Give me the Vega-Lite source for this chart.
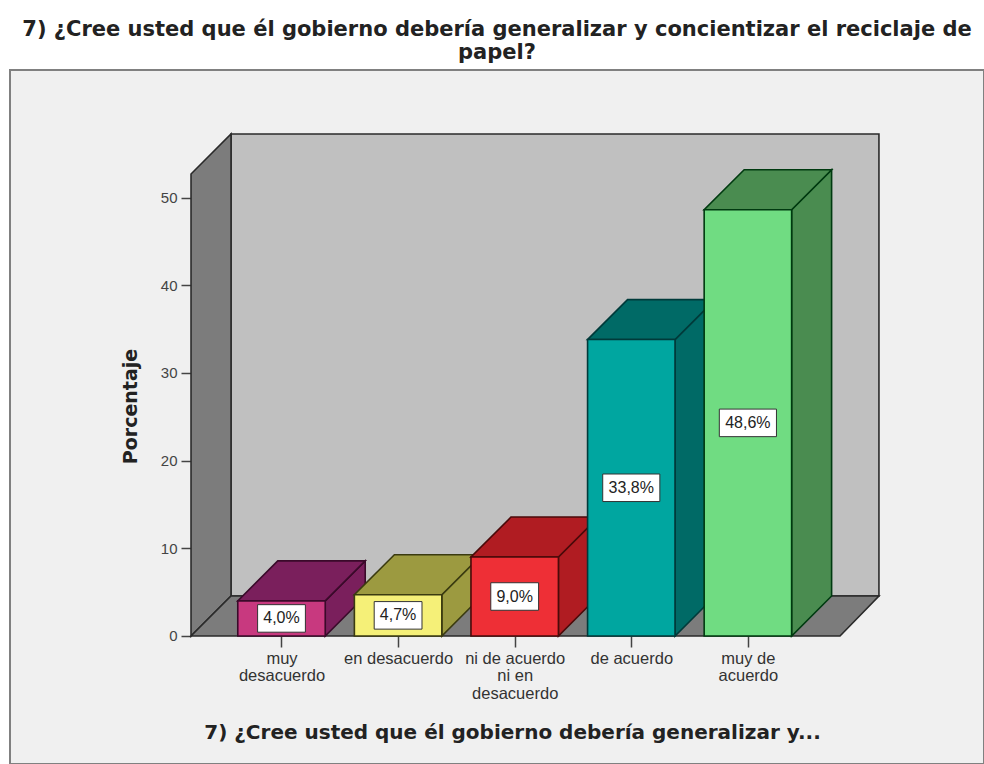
{"$schema":"https://vega.github.io/schema/vega-lite/v6.json","autosize":{"type":"none"},"padding":{"left":10,"top":70,"right":0,"bottom":0},"width":974,"height":694,"background":"#ffffff","view":{"fill":"#f0f0f0","stroke":"#808080","strokeWidth":2},"title":{"text":["7) ¿Cree usted que él gobierno debería generalizar y concientizar el reciclaje de","papel?"],"font":"DejaVu Sans","fontSize":21,"fontWeight":"bold","color":"#222222","anchor":"middle","lineHeight":23,"offset":7},"data":{"values":[{"categoria":"muy desacuerdo","posicion":1,"porcentaje":4.0,"etiqueta":"4,0%"},{"categoria":"en desacuerdo","posicion":2,"porcentaje":4.7,"etiqueta":"4,7%"},{"categoria":"ni de acuerdo ni en desacuerdo","posicion":3,"porcentaje":9.0,"etiqueta":"9,0%"},{"categoria":"de acuerdo","posicion":4,"porcentaje":33.8,"etiqueta":"33,8%"},{"categoria":"muy de acuerdo","posicion":5,"porcentaje":48.6,"etiqueta":"48,6%"}]},"resolve":{"scale":{"color":"independent","stroke":"independent"}},"layer":[{"data":{"values":[{"cara":"fondo","x":0.567,"y0":4.56,"y1":57.24},{"cara":"fondo","x":6.124,"y0":4.56,"y1":57.24},{"cara":"pared","x":0.224,"y0":0,"y1":52.68},{"cara":"pared","x":0.567,"y0":4.56,"y1":57.24},{"cara":"suelo","x":0.224,"y0":0,"y1":0},{"cara":"suelo","x":0.567,"y0":0,"y1":4.56},{"cara":"suelo","x":5.79,"y0":0,"y1":4.56},{"cara":"suelo","x":6.124,"y0":4.56,"y1":4.56}]},"mark":{"type":"area","stroke":"#2a2a2a","strokeWidth":1.6,"opacity":1},"encoding":{"x":{"field":"x","type":"quantitative","scale":{"domain":[-1.3285,7.025],"zero":false,"nice":false},"axis":{"values":[1,2,3,4,5],"offset":-128,"grid":false,"domain":false,"tickSize":11,"tickColor":"#444444","tickWidth":1.5,"labelFont":"Liberation Sans","labelFontSize":16.5,"labelColor":"#333333","labelPadding":3,"labelLineHeight":17.5,"labelAngle":0,"labelOverlap":false,"labelExpr":"datum.value==1?['muy','desacuerdo']:datum.value==2?'en desacuerdo':datum.value==3?['ni de acuerdo','ni en','desacuerdo']:datum.value==4?'de acuerdo':['muy de','acuerdo']","title":"7) ¿Cree usted que él gobierno debería generalizar y...","titleFont":"DejaVu Sans","titleFontSize":20,"titleFontWeight":"bold","titleColor":"#222222","titlePadding":21,"titleX":502}},"y":{"field":"y1","type":"quantitative","scale":{"domain":[-14.6,64.54],"zero":false,"nice":false},"axis":{"values":[0,10,20,30,40,50],"offset":-181,"grid":false,"domain":false,"tickSize":10,"tickColor":"#444444","tickWidth":1.5,"labelFont":"Liberation Sans","labelFontSize":15,"labelColor":"#444444","labelPadding":4,"title":"Porcentaje","titleFont":"DejaVu Sans","titleFontSize":19,"titleFontWeight":"bold","titleColor":"#222222","titlePadding":20,"titleY":336}},"y2":{"field":"y0"},"color":{"field":"cara","type":"nominal","legend":null,"scale":{"domain":["fondo","pared","suelo"],"range":["#c0c0c0","#7c7c7c","#7c7c7c"]}}}},{"transform":[{"calculate":"[0,1]","as":"t"},{"flatten":["t"]},{"calculate":"datum.posicion+0.375+datum.t*0.343","as":"xs"},{"calculate":"datum.t*4.56","as":"yb"},{"calculate":"datum.porcentaje+datum.t*4.56","as":"yt"}],"mark":{"type":"area","strokeWidth":1.6,"opacity":1},"encoding":{"x":{"field":"xs","type":"quantitative"},"y":{"field":"yt","type":"quantitative"},"y2":{"field":"yb"},"color":{"field":"categoria","type":"nominal","legend":null,"scale":{"domain":["muy desacuerdo","en desacuerdo","ni de acuerdo ni en desacuerdo","de acuerdo","muy de acuerdo"],"range":["#7a1f5c","#9c9a40","#b01c22","#006a66","#4a8c50"]}},"stroke":{"field":"categoria","type":"nominal","legend":null,"scale":{"domain":["muy desacuerdo","en desacuerdo","ni de acuerdo ni en desacuerdo","de acuerdo","muy de acuerdo"],"range":["#3a0a2a","#3a3a10","#4a0a0a","#003a3a","#003a10"]}}}},{"transform":[{"calculate":"[0,1]","as":"t"},{"flatten":["t"]},{"calculate":"datum.posicion-0.375+datum.t*0.343","as":"xa"},{"calculate":"datum.posicion+0.375+datum.t*0.343","as":"xb"},{"calculate":"datum.porcentaje+datum.t*4.56","as":"yt"}],"mark":{"type":"area","orient":"horizontal","strokeWidth":1.6,"opacity":1},"encoding":{"y":{"field":"yt","type":"quantitative"},"x":{"field":"xa","type":"quantitative"},"x2":{"field":"xb"},"color":{"field":"categoria","type":"nominal","legend":null,"scale":{"domain":["muy desacuerdo","en desacuerdo","ni de acuerdo ni en desacuerdo","de acuerdo","muy de acuerdo"],"range":["#7a1f5c","#9c9a40","#b01c22","#006a66","#4a8c50"]}},"stroke":{"field":"categoria","type":"nominal","legend":null,"scale":{"domain":["muy desacuerdo","en desacuerdo","ni de acuerdo ni en desacuerdo","de acuerdo","muy de acuerdo"],"range":["#3a0a2a","#3a3a10","#4a0a0a","#003a3a","#003a10"]}}}},{"transform":[{"calculate":"datum.posicion-0.375","as":"xa"},{"calculate":"datum.posicion+0.375","as":"xb"}],"mark":{"type":"rect","strokeWidth":1.6},"encoding":{"x":{"field":"xa","type":"quantitative"},"x2":{"field":"xb"},"y":{"field":"porcentaje","type":"quantitative"},"y2":{"datum":0},"color":{"field":"categoria","type":"nominal","legend":null,"scale":{"domain":["muy desacuerdo","en desacuerdo","ni de acuerdo ni en desacuerdo","de acuerdo","muy de acuerdo"],"range":["#c8397f","#f5f078","#ee2f36","#00a6a0","#70dc82"]}},"stroke":{"field":"categoria","type":"nominal","legend":null,"scale":{"domain":["muy desacuerdo","en desacuerdo","ni de acuerdo ni en desacuerdo","de acuerdo","muy de acuerdo"],"range":["#3a0a2a","#3a3a10","#4a0a0a","#003a3a","#003a10"]}}}},{"transform":[{"calculate":"length(datum.etiqueta)==4?0.205:0.245","as":"mw"},{"calculate":"datum.posicion-datum.mw","as":"xa"},{"calculate":"datum.posicion+datum.mw","as":"xb"},{"calculate":"datum.porcentaje/2-1.57","as":"ya"},{"calculate":"datum.porcentaje/2+1.57","as":"yb"}],"mark":{"type":"rect","fill":"#ffffff","stroke":"#333333","strokeWidth":1},"encoding":{"x":{"field":"xa","type":"quantitative"},"x2":{"field":"xb"},"y":{"field":"ya","type":"quantitative"},"y2":{"field":"yb"}}},{"transform":[{"calculate":"datum.porcentaje/2","as":"ym"}],"mark":{"type":"text","font":"Liberation Sans","fontSize":16,"color":"#222222","align":"center","baseline":"middle"},"encoding":{"x":{"field":"posicion","type":"quantitative"},"y":{"field":"ym","type":"quantitative"},"text":{"field":"etiqueta"}}}]}
